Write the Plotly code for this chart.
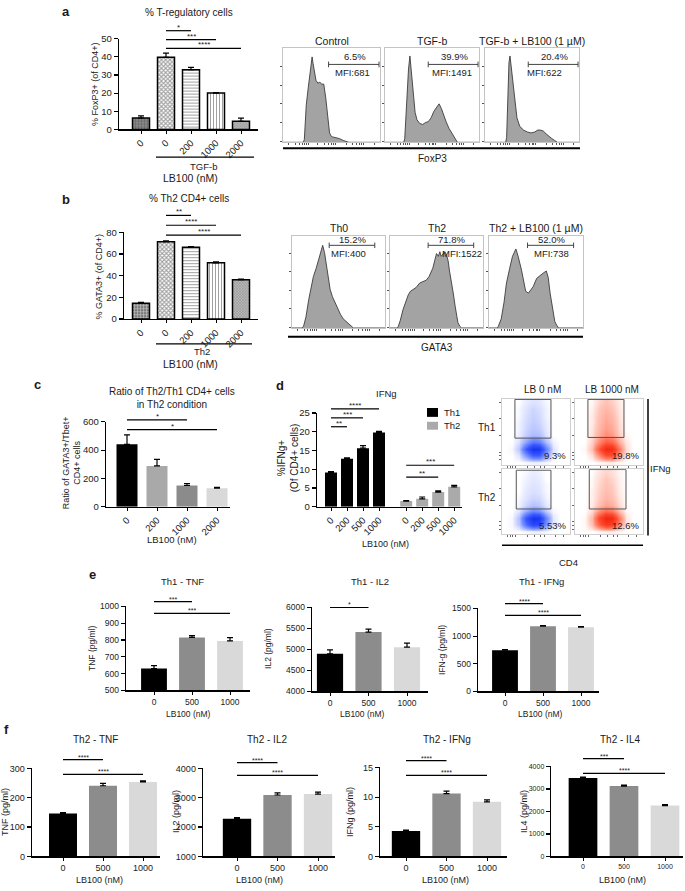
import plotly.graph_objects as go

W, H = 685, 891
FONT = "Liberation Sans, Arial, Helvetica, sans-serif"

# ======================= DATA =======================
# Panel a - % T-regulatory cells
a_cats = ["0", "0", "200", "1000", "2000"]
a_vals = [6.3, 39.7, 32.9, 20.0, 4.5]
a_errs = [1.2, 2.3, 1.3, 0.3, 1.7]
a_sig_pairs = [(1, 2), (1, 3), (1, 4)]
a_sig_text = ["*", "***", "****"]

a_hist_titles = ["Control", "TGF-b", "TGF-b + LB100 (1 µM)"]
a_hist_pct = ["6.5%", "39.9%", "20.4%"]
a_hist_mfi = ["MFI:681", "MFI:1491", "MFI:622"]
a_ctrl_x = [0, 21, 22, 24, 26, 28, 30, 31, 32, 34, 36, 38, 40, 42, 44, 46, 48, 50, 54, 58, 62, 66, 68, 100]
a_ctrl_y = [0, 0, 3, 40, 58, 72, 91, 84, 76, 66, 63, 64, 62, 62, 48, 25, 10, 6, 5, 4, 2, 1, 0, 0]
a_tgf_x = [0, 20, 21, 23, 25, 26.5, 28, 30, 32, 34, 37, 40, 43, 46, 49, 52, 55, 57.5, 60, 62, 65, 68, 71, 74, 77, 100]
a_tgf_y = [0, 0, 4, 45, 78, 92, 75, 47, 32, 24, 20, 19, 21, 22, 26, 33, 38, 41, 36, 30, 22, 15, 10, 4, 0, 0]
a_lb_x = [0, 22, 23, 24.5, 25.5, 26.6, 28, 30, 32, 34, 37, 41, 45, 49, 53, 56, 59, 62, 65, 68, 71, 74, 77, 100]
a_lb_y = [0, 0, 5, 55, 85, 92, 78, 58, 38, 26, 17, 13, 11, 10, 11, 13, 13, 12, 9, 6, 4, 2, 0, 0]

# Panel b - % Th2 CD4+ cells
b_cats = ["0", "0", "200", "1000", "2000"]
b_vals = [14.6, 71.2, 66.2, 51.8, 36.2]
b_errs = [0.8, 0.8, 0.5, 0.8, 0.7]
b_sig_pairs = [(1, 2), (1, 3), (1, 4)]
b_sig_text = ["**", "****", "****"]

b_hist_titles = ["Th0", "Th2", "Th2 + LB100 (1 µM)"]
b_hist_pct = ["15.2%", "71.8%", "52.0%"]
b_hist_mfi = ["MFI:400", "MFI:1522", "MFI:738"]
b_th0_x = [0, 11, 12.5, 15, 18, 20, 23, 26, 28.6, 31, 33, 35, 37.5, 39, 41, 43.5, 46, 49, 52, 55, 59, 63, 66, 100]
b_th0_y = [0, 0, 2, 12, 31, 42, 56, 65, 74, 84, 90, 82, 65, 52, 42, 34, 28, 21, 15, 10, 6, 2, 0, 0]
b_th2_x = [0, 8, 9, 11, 14, 17, 19.6, 22, 25, 28, 32, 35, 39, 42, 46, 48, 50, 52, 53.6, 55, 57, 59, 61, 62.5, 64, 66, 68, 70, 73, 75, 77, 100]
b_th2_y = [0, 0, 2, 8, 20, 30, 36, 40, 42, 44, 49, 50, 52, 56, 65, 73, 81, 78, 83, 78, 80, 83, 79, 73, 62, 52, 38, 24, 6, 2, 0, 0]
b_lb_x = [0, 9, 10, 13, 16, 18.6, 22, 25, 28.6, 31, 34.6, 37, 39, 42, 45, 47, 50.7, 54, 58, 61, 63, 65, 67, 68.6, 70, 72, 74, 100]
b_lb_y = [0, 0, 2, 10, 28, 49, 65, 78, 86, 78, 63, 50, 40, 38, 42, 45, 54, 57, 60, 62, 55, 38, 24, 13, 7, 3, 0, 0]

# Panel c - Ratio Th2/Th1
c_cats = ["0", "200", "1000", "2000"]
c_vals = [441, 288, 150, 131]
c_errs = [67, 46, 13, 6]
c_sig_pairs = [(0, 2), (0, 3)]
c_sig_text = ["*", "*"]

# Panel d - IFNg
d_cats = ["0", "200", "500", "1000"]
d_th1 = [9.1, 12.8, 15.6, 19.8]
d_th1_err = [0.25, 0.2, 0.7, 0.3]
d_th2 = [1.5, 2.1, 3.9, 5.3]
d_th2_err = [0.12, 0.5, 0.3, 0.4]
d_sig_pairs = [(0, 1), (0, 2), (0, 3), (4, 6), (4, 7)]
d_sig_text = ["**", "***", "****", "**", "***"]

d_dot_cols = ["LB 0 nM", "LB 1000 nM"]
d_dot_rows = ["Th1", "Th2"]
d_dot_pct = ["9.3%", "19.8%", "5.53%", "12.6%"]
d_grid_x = [5, 15, 25, 35, 45, 55, 65, 75, 85, 95]
d_grid_y = [5, 15, 25, 35, 45, 55, 65, 75, 85, 95]
d_z_th1_lb0 = [
    [0, 0, 0, 0.1, 0.2, 0.2, 0.1, 0, 0, 0],
    [0, 0, 0.5, 3, 6, 6, 2.5, 0.3, 0, 0],
    [0, 0.1, 1.2, 6, 10, 9.5, 4, 0.5, 0, 0],
    [0, 0, 0.6, 2.5, 4.5, 4, 1.5, 0.2, 0, 0],
    [0, 0, 0.3, 1.0, 1.6, 1.4, 0.5, 0, 0, 0],
    [0, 0, 0.2, 0.8, 1.2, 1.0, 0.4, 0, 0, 0],
    [0, 0, 0.2, 0.7, 1.0, 0.8, 0.3, 0, 0, 0],
    [0, 0, 0.1, 0.6, 0.9, 0.7, 0.2, 0, 0, 0],
    [0, 0, 0.1, 0.5, 0.8, 0.6, 0.2, 0, 0, 0],
    [0, 0, 0, 0.3, 0.5, 0.4, 0.1, 0, 0, 0],
]
d_z_th1_lb1000 = [
    [0, 0, 0, 0.1, 0.2, 0.2, 0.1, 0, 0, 0],
    [0, 0, 0.5, 3, 6, 6, 2.5, 0.3, 0, 0],
    [0, 0.1, 1.2, 5.5, 9.5, 9, 3.8, 0.5, 0, 0],
    [0, 0, 0.8, 3, 5, 4.5, 1.8, 0.3, 0, 0],
    [0, 0, 0.5, 1.8, 2.8, 2.4, 0.9, 0.1, 0, 0],
    [0, 0, 0.4, 1.5, 2.3, 1.9, 0.7, 0, 0, 0],
    [0, 0, 0.3, 1.3, 2.0, 1.6, 0.6, 0, 0, 0],
    [0, 0, 0.3, 1.2, 1.8, 1.4, 0.5, 0, 0, 0],
    [0, 0, 0.2, 1.0, 1.5, 1.1, 0.4, 0, 0, 0],
    [0, 0, 0.1, 0.7, 1.1, 0.8, 0.3, 0, 0, 0],
]
d_z_th2_lb0 = [
    [0, 0, 0, 0.1, 0.2, 0.2, 0.1, 0, 0, 0],
    [0, 0.1, 1.2, 5, 8, 7.5, 3, 0.4, 0, 0],
    [0, 0.1, 1.4, 6.5, 10, 9.5, 3.8, 0.4, 0, 0],
    [0, 0, 0.5, 2.2, 3.8, 3.2, 1.1, 0.1, 0, 0],
    [0, 0, 0.2, 0.8, 1.3, 1.1, 0.4, 0, 0, 0],
    [0, 0, 0.1, 0.5, 0.8, 0.7, 0.2, 0, 0, 0],
    [0, 0, 0, 0.4, 0.6, 0.5, 0.1, 0, 0, 0],
    [0, 0, 0, 0.3, 0.5, 0.4, 0.1, 0, 0, 0],
    [0, 0, 0, 0.2, 0.4, 0.3, 0, 0, 0, 0],
    [0, 0, 0, 0.1, 0.3, 0.2, 0, 0, 0, 0],
]
d_z_th2_lb1000 = [
    [0, 0, 0, 0.1, 0.2, 0.2, 0.1, 0, 0, 0],
    [0, 0.1, 1.2, 5, 8, 7.5, 3, 0.4, 0, 0],
    [0, 0.1, 1.4, 6.5, 10, 9.5, 3.8, 0.4, 0, 0],
    [0, 0, 0.6, 2.8, 4.5, 3.8, 1.3, 0.1, 0, 0],
    [0, 0, 0.3, 1.2, 2.0, 1.7, 0.6, 0, 0, 0],
    [0, 0, 0.2, 0.9, 1.5, 1.2, 0.4, 0, 0, 0],
    [0, 0, 0.2, 0.8, 1.3, 1.0, 0.3, 0, 0, 0],
    [0, 0, 0.1, 0.7, 1.1, 0.9, 0.2, 0, 0, 0],
    [0, 0, 0.1, 0.6, 1.0, 0.7, 0.2, 0, 0, 0],
    [0, 0, 0, 0.4, 0.7, 0.5, 0.1, 0, 0, 0],
]

# Panel e - Th1 cytokines
e_cats = ["0", "500", "1000"]
e_tnf = [630, 816, 795]
e_tnf_err = [18, 10, 20]
e_il2 = [4895, 5415, 5055]
e_il2_err = [95, 70, 95]
e_ifng = [745, 1180, 1160]
e_ifng_err = [10, 10, 12]
e_tnf_sig = ([(0, 1), (0, 2)], ["***", "***"])
e_il2_sig = ([(0, 1)], ["*"])
e_ifng_sig = ([(0, 1), (0, 2)], ["****", "****"])

# Panel f - Th2 cytokines
f_cats = ["0", "500", "1000"]
f_tnf = [146, 241, 254]
f_tnf_err = [3, 8, 4]
f_il2 = [2280, 3095, 3125]
f_il2_err = [40, 70, 70]
f_ifng = [4.3, 10.6, 9.2]
f_ifng_err = [0.15, 0.4, 0.35]
f_il4 = [3490, 3130, 2260]
f_il4_err = [40, 40, 40]
f_tnf_sig = ([(0, 1), (0, 2)], ["****", "****"])
f_il2_sig = ([(0, 1), (0, 2)], ["****", "****"])
f_ifng_sig = ([(0, 1), (0, 2)], ["****", "****"])
f_il4_sig = ([(0, 1), (0, 2)], ["***", "****"])

# ======================= HELPERS =======================
fig = go.Figure()
layout = dict(
    width=W, height=H, margin=dict(l=0, r=0, t=0, b=0),
    paper_bgcolor="white", plot_bgcolor="rgba(0,0,0,0)", showlegend=False,
    font=dict(family=FONT, size=10, color="#1a1a1a"),
)
shapes, annots = [], []
counter = [0]


def fx(px):
    return px / W


def fy(py):
    return 1 - py / H


def new_axes(left, right, top, bottom, xopts, yopts):
    counter[0] += 1
    n = counter[0]
    xk = "xaxis" if n == 1 else f"xaxis{n}"
    yk = "yaxis" if n == 1 else f"yaxis{n}"
    xr = "x" if n == 1 else f"x{n}"
    yr = "y" if n == 1 else f"y{n}"
    base = dict(showgrid=False, zeroline=False, fixedrange=True)
    xa = dict(base, domain=[fx(left), fx(right)], anchor=yr)
    xa.update(xopts)
    ya = dict(base, domain=[fy(bottom), fy(top)], anchor=xr)
    ya.update(yopts)
    layout[xk] = xa
    layout[yk] = ya
    return xr, yr


def text(x, y, s, size=10, bold=False, xanchor="center", yanchor="middle",
         angle=0, color="#1a1a1a"):
    if bold:
        s = f"<b>{s}</b>"
    annots.append(dict(
        x=fx(x), y=fy(y), xref="paper", yref="paper", text=s, showarrow=False,
        textangle=angle, xanchor=xanchor, yanchor=yanchor,
        font=dict(size=size, color=color, family=FONT)))


def pline(x0, y0, x1, y1, width=1.2, color="black"):
    shapes.append(dict(type="line", xref="paper", yref="paper",
                       x0=fx(x0), y0=fy(y0), x1=fx(x1), y1=fy(y1),
                       line=dict(color=color, width=width)))


def bar_panel(box, first_c, spacing, vals, errs, cats, colors, yrange, dtick,
              width=0.7, tickangle=0, tickfont=9.5, patterns=None, outline=0,
              xpos=None, sig=None, sig_y=None, sig_size=8):
    left, right, top, bottom = box
    n = len(vals)
    if xpos is None:
        xpos = list(range(n))
    xrng = [(left - first_c) / spacing, (right - first_c) / spacing]
    tv = []
    v = yrange[0]
    while v <= yrange[1] + 1e-9:
        tv.append(v)
        v += dtick
    xr, yr = new_axes(
        left, right, top, bottom,
        dict(range=xrng, tickvals=xpos, ticktext=cats, showline=True, linecolor="black",
             linewidth=1.3, ticks="outside", ticklen=3, tickwidth=1, tickcolor="black",
             tickangle=tickangle, tickfont=dict(size=tickfont, color="#222")),
        dict(range=yrange, tickvals=tv, showline=True, linecolor="black", linewidth=1.3,
             ticks="outside", ticklen=4, tickwidth=1.2, tickcolor="black",
             tickfont=dict(size=tickfont, color="#222")),
    )
    marker = dict(color=colors, line=dict(color="black", width=outline))
    if patterns is not None:
        marker["pattern"] = patterns
    base = yrange[0]
    fig.add_trace(go.Bar(
        x=xpos, y=[v - base for v in vals], base=base, width=width, marker=marker,
        xaxis=xr, yaxis=yr,
        error_y=dict(type="data", array=errs, arrayminus=[0] * n, symmetric=False,
                     color="black", thickness=1.2, width=3),
        hoverinfo="skip"))
    if sig is not None:
        pairs, labels = sig
        for (i, j), lab, py in zip(pairs, labels, sig_y):
            shapes.append(dict(type="line", xref=xr, yref="paper", x0=xpos[i], x1=xpos[j],
                               y0=fy(py), y1=fy(py), line=dict(color="black", width=1.2)))
            annots.append(dict(xref=xr, yref="paper", x=(xpos[i] + xpos[j]) / 2, y=fy(py),
                               text=lab, showarrow=False, yanchor="bottom", yshift=-3,
                               font=dict(size=sig_size, color="#1a1a1a", family=FONT)))
    return xr, yr


def hist_panel(box, xs, ys, title, pct, mfi, gate, mfi_x, ylev, title_y):
    left, right, top, bottom = box
    xr, yr = new_axes(
        left, right, top, bottom,
        dict(range=[0, 100], showline=True, mirror=True, linecolor="#c4c4c4", linewidth=1,
             ticks="outside", ticklen=2, tickcolor="#555", showticklabels=False,
             tickvals=[6, 13, 17, 20, 22, 24, 26, 36, 43, 47, 50, 52, 54, 65, 72, 76, 79, 81, 83, 94]),
        dict(range=[0, 100], showline=True, mirror=True, linecolor="#c4c4c4", linewidth=1,
             ticks="outside", ticklen=2, tickcolor="#555", showticklabels=False,
             tickvals=[1, 21, 41, 61, 81]),
    )
    fig.add_trace(go.Scatter(x=xs, y=ys, mode="lines", fill="tozeroy",
                             fillcolor="#a3a3a3", line=dict(color="#3c3c3c", width=0.9),
                             xaxis=xr, yaxis=yr, hoverinfo="skip"))
    g0, g1 = gate
    pct_y, line_y, mfi_y = ylev
    for s in [dict(x0=g0, x1=g1, y0=line_y, y1=line_y),
              dict(x0=g0, x1=g0, y0=line_y - 3, y1=line_y + 3),
              dict(x0=g1, x1=g1, y0=line_y - 3, y1=line_y + 3)]:
        shapes.append(dict(type="line", xref=xr, yref=yr, line=dict(color="#444", width=1), **s))
    annots.append(dict(xref=xr, yref=yr, x=(g0 + g1) / 2 + 1, y=pct_y, text=pct, showarrow=False,
                       font=dict(size=9.5, color="#222", family=FONT)))
    annots.append(dict(xref=xr, yref=yr, x=mfi_x, y=mfi_y, text=mfi, showarrow=False,
                       font=dict(size=9.5, color="#222", family=FONT)))
    text((left + right) / 2, title_y, title, size=10.5)


def dot_panel(box, z, scale, gate, pct):
    left, right, top, bottom = box
    xr, yr = new_axes(
        left, right, top, bottom,
        dict(range=[0, 100], showline=True, mirror=True, linecolor="#cfcfcf", linewidth=1,
             ticks="outside", ticklen=2, tickcolor="#666", showticklabels=False,
             tickvals=[8, 12, 16, 20, 38, 48, 56, 62, 78, 90]),
        dict(range=[0, 100], showline=True, mirror=True, linecolor="#cfcfcf", linewidth=1,
             ticks="outside", ticklen=2, tickcolor="#666", showticklabels=False,
             tickvals=[8, 14, 20, 45, 70, 95]),
    )
    fig.add_trace(go.Heatmap(x=d_grid_x, y=d_grid_y, z=z, zmin=0, zmax=10, zsmooth="best",
                             colorscale=scale, showscale=False, xaxis=xr, yaxis=yr,
                             hoverinfo="skip"))
    g = gate
    shapes.append(dict(type="rect", xref=xr, yref=yr, x0=g[0], x1=g[1], y0=g[2], y1=g[3],
                       line=dict(color="#555", width=1)))
    annots.append(dict(xref=xr, yref=yr, x=97, y=14, text=pct, showarrow=False,
                       xanchor="right", font=dict(size=9.5, color="#222", family=FONT)))


# ======================= PANEL a =======================
pat_a = dict(shape=["+", "x", "-", "|", "x"],
             fgcolor=["#3a3a3a", "#111111", "#222222", "#222222", "#555555"],
             bgcolor=["#8a8a8a", "#ffffff", "#ffffff", "#ffffff", "#bdbdbd"],
             size=[3, 3, 3, 3, 2], solidity=[0.4, 0.6, 0.35, 0.35, 0.4])
bar_panel((119, 258, 33, 125), 141, 25, a_vals, a_errs, a_cats,
          ["#8a8a8a", "#ffffff", "#ffffff", "#ffffff", "#bdbdbd"], [0, 50], 10,
          width=0.68, tickangle=-45, patterns=pat_a, outline=1.5,
          sig=(a_sig_pairs, a_sig_text), sig_y=[25, 34, 43])
text(66, 6, "a", size=13, bold=True)
text(189, 7, "% T-regulatory cells", size=10)
text(95, 79, "% FoxP3+ (of CD4+)", size=9, angle=-90)
pline(156, 153, 254, 153, width=1.2)
text(203, 163, "TGF-b", size=9.5)
text(190, 174, "LB100 (nM)", size=10.5)

a_boxes = [(283, 380, 43, 138), (385, 479, 43, 138), (485, 579, 43, 138)]
a_series = [(a_ctrl_x, a_ctrl_y), (a_tgf_x, a_tgf_y), (a_lb_x, a_lb_y)]
a_gates = [(47, 99), (46, 99), (46, 99)]
a_mfi_x = [72, 71, 63]
for k in range(3):
    hist_panel(a_boxes[k], a_series[k][0], a_series[k][1], a_hist_titles[k], a_hist_pct[k],
               a_hist_mfi[k], a_gates[k], a_mfi_x[k], (91, 83, 74), 35)
pline(283, 144, 580, 144, width=2)
text(432, 154, "FoxP3", size=10)

# ======================= PANEL b =======================
pat_b = dict(shape=["+", "x", "-", "|", "x"],
             fgcolor=["#3a3a3a", "#111111", "#222222", "#222222", "#555555"],
             bgcolor=["#7a7a7a", "#ffffff", "#ffffff", "#ffffff", "#bdbdbd"],
             size=[3, 3, 3, 3, 2], solidity=[0.4, 0.6, 0.35, 0.35, 0.4])
bar_panel((124, 258, 229, 317), 141, 25, b_vals, b_errs, b_cats,
          ["#7a7a7a", "#ffffff", "#ffffff", "#ffffff", "#bdbdbd"], [0, 80], 20,
          width=0.68, tickangle=-45, patterns=pat_b, outline=1.5,
          sig=(b_sig_pairs, b_sig_text), sig_y=[212, 222, 232])
text(66, 196, "b", size=13, bold=True)
text(189, 195, "% Th2 CD4+ cells", size=10)
text(99, 274, "% GATA3+ (of CD4+)", size=9, angle=-90)
pline(156, 342, 252, 342, width=1.2)
text(202, 350, "Th2", size=9.5)
text(190, 362, "LB100 (nM)", size=10.5)

b_boxes = [(292, 385, 233, 326), (390, 483, 233, 326), (489, 583, 233, 326)]
b_series = [(b_th0_x, b_th0_y), (b_th2_x, b_th2_y), (b_lb_x, b_lb_y)]
b_gates = [(40, 89), (41, 90), (41, 90)]
b_mfi_x = [61, 77, 66]
for k in range(3):
    hist_panel(b_boxes[k], b_series[k][0], b_series[k][1], b_hist_titles[k], b_hist_pct[k],
               b_hist_mfi[k], b_gates[k], b_mfi_x[k], (96, 90, 81), 225)
pline(288, 335, 583, 335, width=2)
text(437, 346, "GATA3", size=10)

# ======================= PANEL c =======================
bar_panel((106, 230, 421, 507), 127, 30, c_vals, c_errs, c_cats,
          ["#000000", "#a9a9a9", "#8b8b8b", "#d9d9d9"], [0, 600], 200,
          width=0.7, tickangle=-45, sig=(c_sig_pairs, c_sig_text), sig_y=[419, 429])
text(37, 383, "c", size=13, bold=True)
text(172, 397, "Ratio of Th2/Th1 CD4+ cells<br>in Th2 condition", size=10)
text(72, 463, "Ratio of GATA3+/Tbet+<br>CD4+ cells", size=9, angle=-90)
text(172, 540, "LB100 (nM)", size=9.5)

# ======================= PANEL d =======================
d_xpos = [0, 1, 2, 3, 4.7, 5.7, 6.7, 7.7]
bar_panel((317, 462, 412, 507), 331, 16, d_th1 + d_th2, d_th1_err + d_th2_err,
          d_cats + d_cats, ["#000000"] * 4 + ["#aaaaaa"] * 4, [0, 25], 5,
          width=0.75, tickangle=-45, xpos=d_xpos,
          sig=(d_sig_pairs, d_sig_text), sig_y=[426, 417, 408, 477, 465])
text(280, 384, "d", size=13, bold=True)
text(387, 392, "IFNg", size=9.5)
text(288, 458, "%IFNg+<br>(Of CD4+ cells)", size=10, angle=-90)
text(385, 545, "LB100 (nM)", size=9)
shapes.append(dict(type="rect", xref="paper", yref="paper", x0=fx(427), x1=fx(438),
                   y0=fy(416), y1=fy(407), fillcolor="#000000", line=dict(width=0)))
shapes.append(dict(type="rect", xref="paper", yref="paper", x0=fx(427), x1=fx(438),
                   y0=fy(429), y1=fy(421), fillcolor="#aaaaaa", line=dict(width=0)))
text(442, 412, "Th1", size=9.5, xanchor="left")
text(442, 425, "Th2", size=9.5, xanchor="left")

blue = [[0, "#ffffff"], [0.02, "#eef1ff"], [0.1, "#c2ccff"], [0.3, "#7a93ff"],
        [0.6, "#3b5aff"], [1, "#1632f2"]]
red = [[0, "#ffffff"], [0.02, "#ffefeb"], [0.1, "#ffc6ba"], [0.3, "#ff866f"],
       [0.6, "#ff4a2e"], [1, "#f02610"]]
dot_boxes = [(502, 570, 398, 465), (575, 643, 398, 465), (502, 570, 469, 535), (575, 643, 469, 535)]
dot_z = [d_z_th1_lb0, d_z_th1_lb1000, d_z_th2_lb0, d_z_th2_lb1000]
dot_scales = [blue, red, blue, red]
dot_gates = [(19, 72, 41, 99.5), (19, 72, 42, 99.5), (21, 72, 39, 98.5), (21, 75, 39, 99.5)]
for k in range(4):
    dot_panel(dot_boxes[k], dot_z[k], dot_scales[k], dot_gates[k], d_dot_pct[k])
text(542, 388, d_dot_cols[0], size=10)
text(612, 388, d_dot_cols[1], size=10)
text(487, 427, d_dot_rows[0], size=10)
text(487, 498, d_dot_rows[1], size=10)
pline(648, 398, 648, 536, width=1.5)
text(660, 468, "IFNg", size=9.5)
pline(502, 546, 643, 546, width=1.5)
text(568, 563, "CD4", size=9.5)

# ======================= PANEL e =======================
grays = ["#000000", "#8c8c8c", "#d9d9d9"]
bar_panel((126, 250, 608, 693), 154, 38, e_tnf, e_tnf_err, e_cats, grays, [500, 1000], 100,
          width=0.68, tickfont=8.5, sig=e_tnf_sig, sig_y=[603, 615], sig_size=7)
bar_panel((312, 428, 609, 694), 330, 38.5, e_il2, e_il2_err, e_cats, grays, [4000, 6000], 500,
          width=0.68, tickfont=8.5, sig=e_il2_sig, sig_y=[609], sig_size=7)
bar_panel((478, 599, 610, 694), 505, 38, e_ifng, e_ifng_err, e_cats, grays, [0, 1500], 500,
          width=0.68, tickfont=8.5, sig=e_ifng_sig, sig_y=[605, 617], sig_size=7)
text(92, 576, "e", size=13, bold=True)
text(182, 583, "Th1 - TNF", size=9.5)
text(370, 583, "Th1 - IL2", size=9.5)
text(541, 583, "Th1 - IFNg", size=9.5)
text(92, 650, "TNF (pg/ml)", size=8.5, angle=-90)
text(268, 651, "IL2 (pg/ml)", size=8.5, angle=-90)
text(442, 652, "IFN-g (pg/ml)", size=8.5, angle=-90)
text(188, 717, "LB100 (nM)", size=8.5)
text(362, 717, "LB100 (nM)", size=8.5)
text(540, 717, "LB100 (nM)", size=8.5)

# ======================= PANEL f =======================
bar_panel((32, 160, 772, 861), 63, 40, f_tnf, f_tnf_err, f_cats, grays, [0, 300], 100,
          width=0.7, tickfont=9, sig=f_tnf_sig, sig_y=[763, 778], sig_size=7)
bar_panel((203, 335, 772, 861), 237, 40.5, f_il2, f_il2_err, f_cats, grays, [1000, 4000], 1000,
          width=0.7, tickfont=9, sig=f_il2_sig, sig_y=[766, 779], sig_size=7)
bar_panel((380, 507, 771, 861), 406, 40.5, f_ifng, f_ifng_err, f_cats, grays, [0, 15], 5,
          width=0.7, tickfont=9, sig=f_ifng_sig, sig_y=[764, 779], sig_size=7)
bar_panel((551, 683, 770, 861), 583, 41, f_il4, f_il4_err, f_cats, grays, [0, 4000], 1000,
          width=0.7, tickfont=7, sig=f_il4_sig, sig_y=[762, 777], sig_size=7)
text(6, 733, "f", size=13, bold=True)
text(95, 743, "Th2 - TNF", size=10)
text(267, 743, "Th2 - IL2", size=10)
text(447, 743, "Th2 - IFNg", size=10)
text(620, 743, "Th2 - IL4", size=10)
text(5, 816, "TNF (pg/ml)", size=9, angle=-90)
text(176, 816, "IL2 (pg/ml)", size=9, angle=-90)
text(350, 816, "IFNg (pg/ml)", size=9, angle=-90)
text(524, 816, "IL4 (pg/ml)", size=9, angle=-90)
text(100, 885, "LB100 (nM)", size=9)
text(259, 885, "LB100 (nM)", size=9)
text(445, 885, "LB100 (nM)", size=9)
text(622, 885, "LB100 (nM)", size=9)

layout["shapes"] = shapes
layout["annotations"] = annots
fig.update_layout(**layout)
fig.write_html(
    "out.html",
    config={"displayModeBar": False, "staticPlot": True},
    post_script="document.body.style.margin='0px';document.body.style.padding='0px';"
                "document.documentElement.style.margin='0px';document.body.style.overflow='hidden';",
)
